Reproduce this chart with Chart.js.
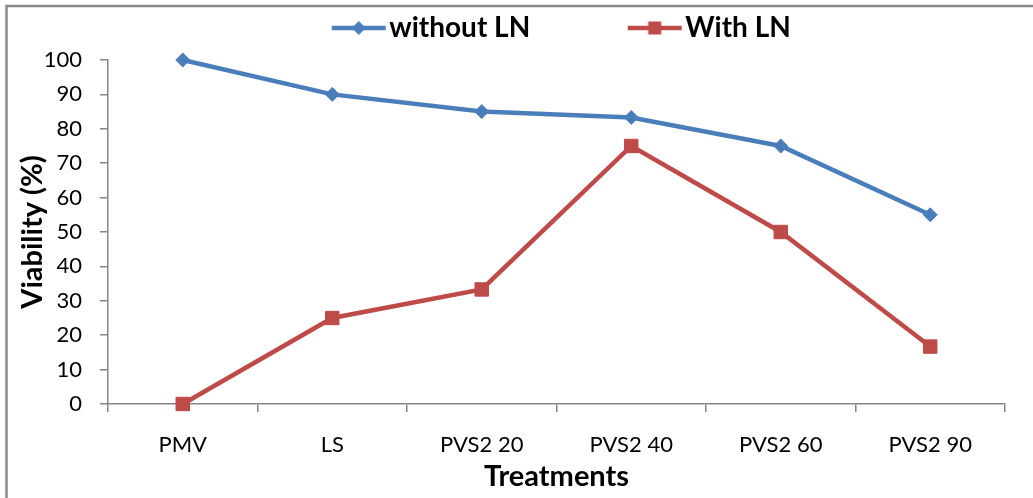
<!DOCTYPE html>
<html>
<head>
<meta charset="utf-8">
<script src="https://cdn.jsdelivr.net/npm/chart.js@4.4.1/dist/chart.umd.min.js"></script>
<style>
html,body{margin:0;padding:0;background:#fff;overflow:hidden;}
#wrap{position:relative;width:1033px;height:498px;}
</style>
</head>
<body>
<div id="wrap"><canvas id="c" width="1033" height="498"></canvas></div>
<script>
const categories = ["PMV", "LS", "PVS2 20", "PVS2 40", "PVS2 60", "PVS2 90"];
const withoutLN = [100, 90, 85, 83.3, 75, 55];
const withLN = [0, 25, 33.3, 75, 50, 16.7];
const yTicks = [0, 10, 20, 30, 40, 50, 60, 70, 80, 90, 100];

const BLUE = '#4A7EBB';
const RED = '#BE4B48';
const FONT = 'Lato, "Open Sans", sans-serif';

// legend symbol: transparent left part, visible line + marker at right end
function legendImg(color, shape) {
  const c = document.createElement('canvas');
  c.width = 160; c.height = 20;
  const g = c.getContext('2d');
  g.strokeStyle = color; g.lineWidth = 4.5; g.lineCap = 'butt';
  g.beginPath(); g.moveTo(105, 10); g.lineTo(159, 10); g.stroke();
  g.fillStyle = color;
  g.beginPath();
  const cx = 132;
  if (shape === 'diamond') {
    g.moveTo(cx, 3); g.lineTo(cx + 7, 10); g.lineTo(cx, 17); g.lineTo(cx - 7, 10); g.closePath();
  } else {
    g.rect(cx - 6.5, 3.5, 13, 13);
  }
  g.fill();
  return c;
}

const framePlugin = {
  id: 'frame',
  beforeDraw(chart) {
    const ctx = chart.ctx;
    ctx.save();
    ctx.strokeStyle = '#8a8a8a';
    ctx.lineWidth = 2.5;
    ctx.beginPath();
    ctx.moveTo(6.5, 600); ctx.lineTo(6.5, 6); ctx.lineTo(1100, 6);
    ctx.stroke();
    ctx.restore();
  }
};

new Chart(document.getElementById('c'), {
  type: 'line',
  data: {
    labels: categories,
    datasets: [
      {
        label: 'without LN', data: withoutLN, clip: false,
        borderColor: BLUE, backgroundColor: BLUE, borderWidth: 4.5,
        pointStyle: 'rectRot', pointRadius: 7, pointBorderWidth: 1,
        pointBackgroundColor: BLUE, pointBorderColor: BLUE, tension: 0
      },
      {
        label: 'With LN', data: withLN, clip: false,
        borderColor: RED, backgroundColor: RED, borderWidth: 4.5,
        pointStyle: 'rect', pointRadius: 9.5, pointBorderWidth: 1,
        pointBackgroundColor: RED, pointBorderColor: RED, tension: 0
      }
    ]
  },
  options: {
    responsive: false,
    animation: false,
    layout: { padding: { left: 24, right: 28, top: 10, bottom: 0 } },
    plugins: {
      tooltip: { enabled: false },
      title: {
        display: true, text: '', weight: 500, position: 'top',
        padding: 0, font: { family: FONT, size: 8, lineHeight: '8px' }
      },
      legend: {
        display: true,
        position: 'top',
        weight: 1000,
        labels: {
          usePointStyle: true,
          pointStyleWidth: 137,
          padding: 4,
          color: '#000',
          font: { family: FONT, size: 28, weight: 'bold' },
          generateLabels(chart) {
            return chart.data.datasets.map((d, i) => ({
              text: d.label,
              pointStyle: legendImg(d.borderColor, i === 0 ? 'diamond' : 'square'),
              fillStyle: d.borderColor, strokeStyle: d.borderColor,
              lineWidth: 0, hidden: false, datasetIndex: i, fontColor: '#000'
            }));
          }
        }
      }
    },
    scales: {
      x: {
        type: 'category',
        offset: true,
        grid: { display: true, drawOnChartArea: false, drawTicks: true, tickLength: 8, offset: true, color: '#868686', lineWidth: 1.5 },
        border: { display: true, color: '#868686', width: 1.5 },
        ticks: { color: '#000', padding: 20, font: { family: FONT, size: 22 }, maxRotation: 0 },
        title: { display: true, text: 'Treatments', color: '#000', font: { family: FONT, size: 29, weight: 'bold' }, padding: { top: 0, bottom: 3.6 } },
        afterFit(scale) { scale.height = 94; }
      },
      y: {
        min: 0, max: 100,
        afterBuildTicks(scale) { scale.ticks = yTicks.map(v => ({ value: v })); },
        grid: { display: true, drawOnChartArea: false, drawTicks: true, tickLength: 8, color: '#868686', lineWidth: 1.5 },
        border: { display: true, color: '#868686', width: 1.5 },
        ticks: { color: '#000', padding: 18, autoSkip: false, font: { family: FONT, size: 22 } },
        title: { display: true, text: 'Viability (%)', color: '#000', font: { family: FONT, size: 29, weight: 'bold', lineHeight: 0.5 }, padding: { top: 1, bottom: 0 } },
        afterFit(scale) { scale.width = 84; }
      }
    }
  },
  plugins: [framePlugin]
});
</script>
</body>
</html>
